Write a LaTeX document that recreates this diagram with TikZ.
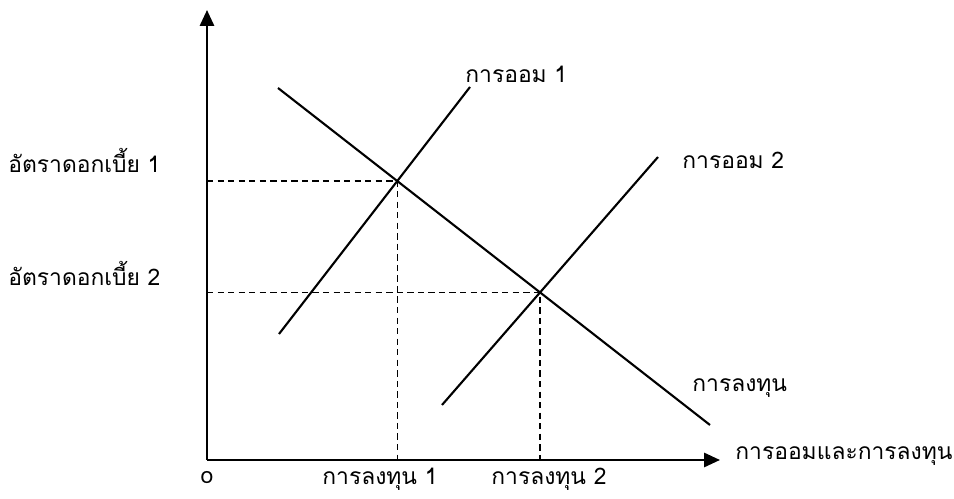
\documentclass[tikz,border=0pt]{standalone}
\usepackage{fontspec}
\usetikzlibrary{arrows.meta}
\newfontfamily\thaifont[Script=Thai]{Loma}
\begin{document}
\begin{tikzpicture}[x=0.02cm,y=-0.02cm,
  axis/.style={line width=1.3pt,-{Triangle[length=9pt,width=8pt]}},
  curve/.style={line width=1.2pt},
  guide/.style={line width=0.8pt,dash pattern=on 3.6pt off 2.4pt},
  lbl/.style={font=\thaifont\fontsize{13}{15}\selectfont,inner sep=0pt}]
\useasboundingbox (0,0) rectangle (954,499);
\coordinate (O) at (207,460);
\coordinate (ytop) at (207,10);
\coordinate (xend) at (720,460);
\coordinate (i1) at (278,88);
\coordinate (i2) at (710,425);
\coordinate (s1a) at (279,334);
\coordinate (s1b) at (470,87);
\coordinate (s2a) at (442,405);
\coordinate (s2b) at (658,157);
\coordinate (E1) at (intersection of i1--i2 and s1a--s1b);
\coordinate (E2) at (intersection of i1--i2 and s2a--s2b);
\coordinate (Ey1) at (O |- E1);
\coordinate (Ey2) at (O |- E2);
\coordinate (Ex1) at (O -| E1);
\coordinate (Ex2) at (O -| E2);
\draw[guide] (Ey1) -- (E1) -- (Ex1);
\draw[guide] (Ey2) -- (E2) -- (Ex2);
\draw[curve] (i1) -- (i2);
\draw[curve] (s1a) -- (s1b);
\draw[curve] (s2a) -- (s2b);
\draw[axis] (O) -- (ytop);
\draw[axis] (O) -- (xend);
\node[lbl,anchor=west] (ly1) at (8,160) {อัตราดอกเบี้ย 1};
\node[lbl,anchor=west] (ly2) at (8,273) {อัตราดอกเบี้ย 2};
\node[lbl,anchor=west] (ls1) at (465,74) {การออม 1};
\node[lbl,anchor=west] (ls2) at (682,160) {การออม 2};
\node[lbl,anchor=west] (li) at (692,388) {การลงทุน};
\node[lbl,anchor=west] (lx1) at (322,479) {การลงทุน 1};
\node[lbl,anchor=west] (lx2) at (491,479) {การลงทุน 2};
\node[lbl,anchor=west] (lx) at (735,456) {การออมและการลงทุน};
\node[lbl] (lo) at (207,478) {o};
\end{tikzpicture}
\end{document}
